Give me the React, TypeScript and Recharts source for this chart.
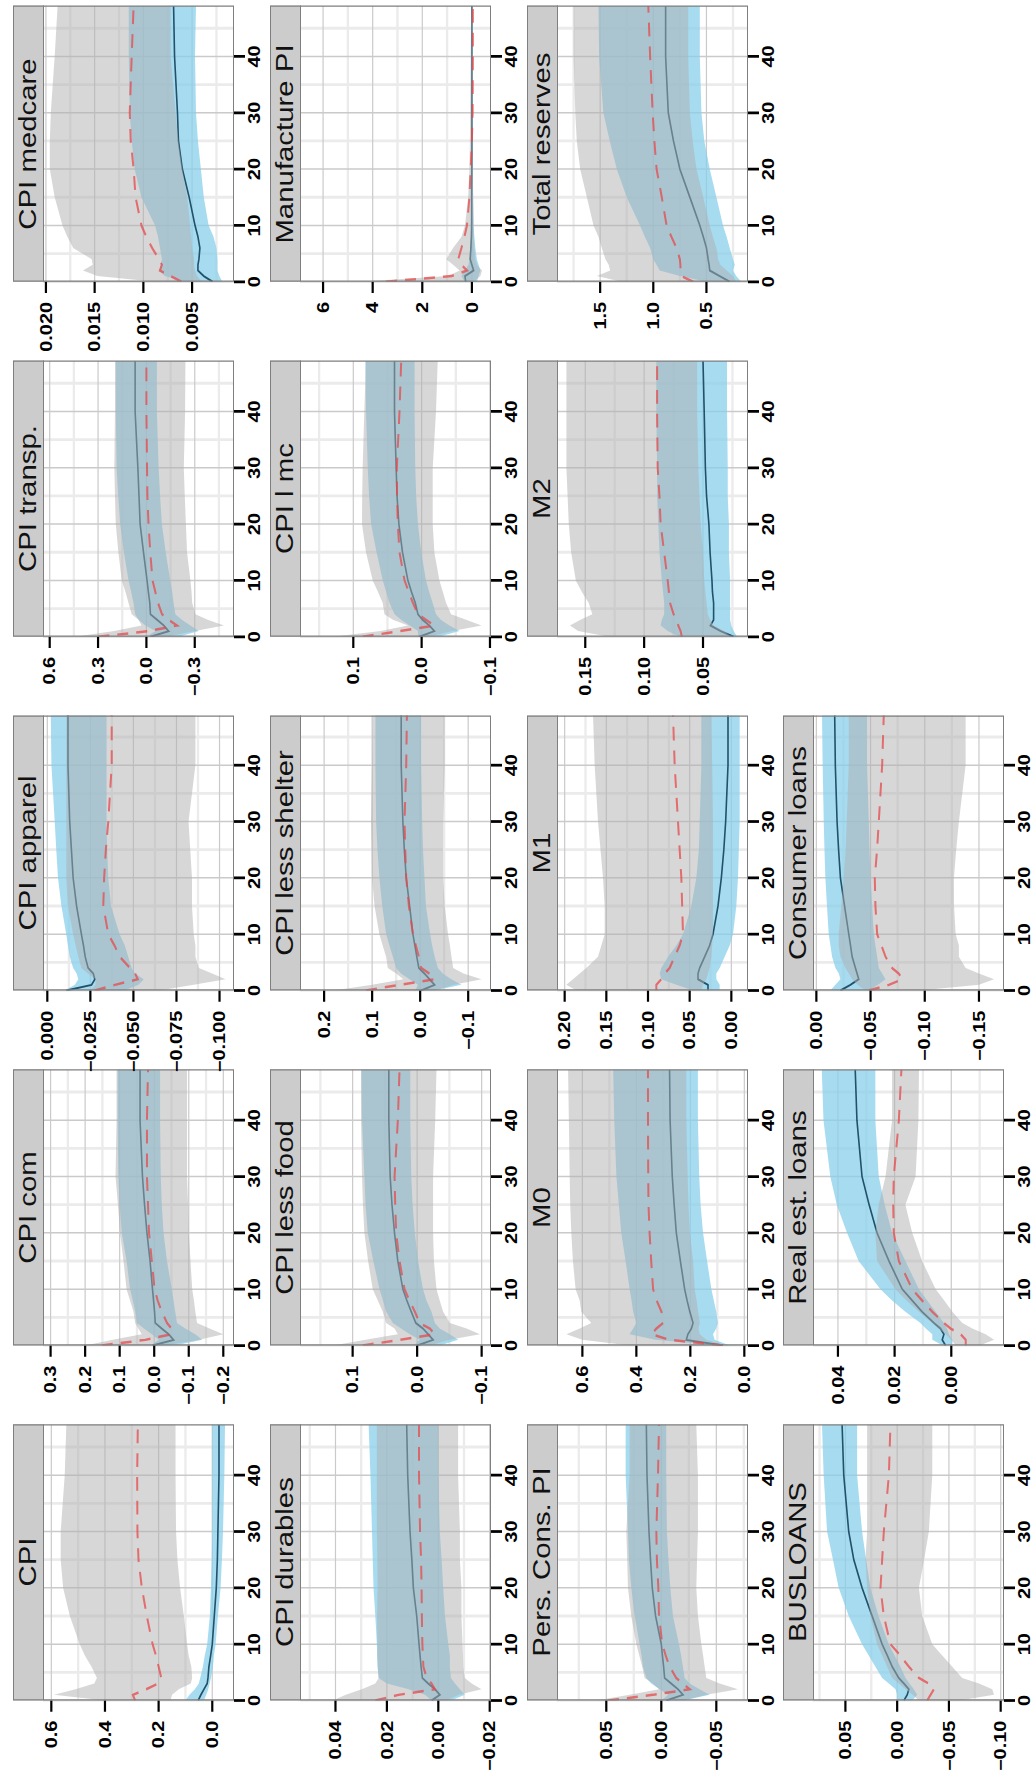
import React from 'react';
import { ComposedChart, Area, Line, XAxis, YAxis, CartesianGrid } from 'recharts';

const horizons = [0, 1, 2, 3, 4, 6, 8, 10, 15, 20, 25, 30, 40, 49];
const xTicks = [0, 10, 20, 30, 40];
const xMinor = [5, 15, 25, 35, 45];

// CPI
const cpiGreyLo = [0.156, 0.15, 0.125, 0.08, 0.075, 0.078, 0.088, 0.094, 0.106, 0.12, 0.13, 0.135, 0.137, 0.137];
const cpiGreyHi = [0.4, 0.59, 0.51, 0.44, 0.43, 0.45, 0.475, 0.494, 0.531, 0.556, 0.565, 0.565, 0.55, 0.544];
const cpiBlueLo = [0.031, 0.0225, 0.015, 0.01, 0.005, -0.0025, -0.006, -0.0125, -0.021, -0.031, -0.036, -0.04, -0.045, -0.0475];
const cpiBlueHi = [0.1, 0.085, 0.065, 0.05, 0.045, 0.035, 0.028, 0.019, 0.009, 0.005, 0.002, 0.0, 0.0, 0.0];
const cpiBlue = [0.0525, 0.0425, 0.031, 0.019, 0.016, 0.0125, 0.006, 0.0, -0.0075, -0.015, -0.019, -0.021, -0.025, -0.025];
const cpiRed = [0.2875, 0.296, 0.246, 0.2025, 0.19, 0.2, 0.21, 0.2225, 0.244, 0.2625, 0.275, 0.279, 0.28, 0.2775];

// CPI com
const comGreyLo = [-0.03, -0.13, -0.2, -0.16, -0.124, -0.119, -0.115, -0.11, -0.105, -0.1, -0.098, -0.095, -0.095, -0.095];
const comGreyHi = [0.2, 0.12, 0.036, 0.046, 0.055, 0.06, 0.07, 0.08, 0.089, 0.099, 0.105, 0.112, 0.109, 0.109];
const comBlueLo = [-0.06, -0.139, -0.119, -0.09, -0.066, -0.061, -0.056, -0.051, -0.037, -0.027, -0.022, -0.019, -0.017, -0.017];
const comBlueHi = [0.01, -0.013, 0.007, 0.03, 0.05, 0.055, 0.062, 0.07, 0.08, 0.094, 0.1, 0.104, 0.106, 0.106];
const comBlue = [0.005, -0.056, -0.042, -0.022, -0.003, -0.001, 0.002, 0.005, 0.012, 0.021, 0.028, 0.034, 0.041, 0.041];
const comRed = [0.152, 0.026, -0.05, -0.05, -0.037, -0.022, -0.01, -0.001, 0.007, 0.015, 0.018, 0.021, 0.021, 0.018];

// CPI apparel
const appGreyLo = [-0.065, -0.085, -0.1035, -0.0957, -0.088, -0.086, -0.086, -0.085, -0.084, -0.084, -0.083, -0.082, -0.086, -0.086];
const appGreyHi = [-0.025, -0.028, -0.028, -0.0237, -0.0198, -0.018, -0.0165, -0.015, -0.012, -0.011, -0.011, -0.011, -0.011, -0.011];
const appBlueLo = [-0.045, -0.053, -0.056, -0.051, -0.049, -0.047, -0.045, -0.042, -0.037, -0.0354, -0.0348, -0.0344, -0.0344, -0.0344];
const appBlueHi = [-0.0101, -0.016, -0.018, -0.017, -0.015, -0.013, -0.012, -0.011, -0.0082, -0.0062, -0.0052, -0.0043, -0.0024, -0.002];
const appBlue = [-0.011, -0.0257, -0.0276, -0.0267, -0.0237, -0.022, -0.021, -0.0198, -0.017, -0.015, -0.014, -0.013, -0.012, -0.012];
const appRed = [-0.0276, -0.0393, -0.0525, -0.051, -0.048, -0.042, -0.039, -0.0354, -0.0325, -0.033, -0.034, -0.0354, -0.0374, -0.0374];

// CPI transp.
const trnGreyLo = [-0.12, -0.3, -0.481, -0.38, -0.304, -0.284, -0.28, -0.273, -0.252, -0.245, -0.238, -0.232, -0.24, -0.242];
const trnGreyHi = [0.44, 0.2, 0.03, 0.049, 0.091, 0.111, 0.13, 0.153, 0.174, 0.19, 0.195, 0.199, 0.195, 0.195];
const trnBlueLo = [-0.2, -0.325, -0.273, -0.22, -0.18, -0.169, -0.16, -0.148, -0.12, -0.096, -0.085, -0.076, -0.065, -0.065];
const trnBlueHi = [0.0, -0.055, 0.006, 0.049, 0.07, 0.08, 0.095, 0.111, 0.14, 0.163, 0.175, 0.185, 0.19, 0.19];
const trnBlue = [-0.025, -0.138, -0.108, -0.067, -0.025, -0.021, -0.012, -0.004, 0.018, 0.039, 0.046, 0.053, 0.07, 0.07];
const trnRed = [0.298, -0.013, -0.19, -0.138, -0.097, -0.072, -0.055, -0.038, -0.024, -0.013, -0.006, -0.004, 0.0, 0.0];

// CPI medcare
const medGreyLo = [0.004, 0.0045, 0.0047, 0.0048, 0.0048, 0.005, 0.0051, 0.0052, 0.0055, 0.006, 0.0064, 0.0067, 0.0072, 0.0072];
const medGreyHi = [0.0088, 0.0147, 0.0162, 0.0152, 0.0153, 0.0172, 0.0178, 0.0183, 0.0191, 0.0196, 0.0196, 0.0195, 0.0191, 0.0188];
const medBlueLo = [0.0019, 0.0022, 0.0024, 0.0024, 0.0024, 0.0025, 0.0028, 0.0033, 0.0038, 0.0041, 0.0044, 0.0046, 0.0047, 0.0046];
const medBlueHi = [0.0057, 0.0078, 0.0084, 0.0082, 0.0081, 0.0083, 0.0085, 0.0088, 0.0102, 0.0109, 0.0112, 0.0114, 0.0115, 0.0115];
const medBlue = [0.0029, 0.0038, 0.0044, 0.0044, 0.0043, 0.0042, 0.0044, 0.0047, 0.0053, 0.006, 0.0064, 0.0065, 0.0068, 0.0069];
const medRed = [0.0061, 0.0072, 0.0083, 0.0081, 0.0084, 0.0091, 0.0097, 0.0102, 0.0108, 0.011, 0.0113, 0.0114, 0.0112, 0.011];

// CPI durables
const durGreyLo = [-0.003, -0.008, -0.0168, -0.013, -0.0103, -0.0097, -0.0096, -0.0094, -0.009, -0.009, -0.0084, -0.0084, -0.0077, -0.0077];
const durGreyHi = [0.041, 0.036, 0.0297, 0.0245, 0.0232, 0.0236, 0.0237, 0.0237, 0.0238, 0.0236, 0.0237, 0.0239, 0.0239, 0.0239];
const durBlueLo = [-0.005, -0.0103, -0.0084, -0.0065, -0.0049, -0.0045, -0.0045, -0.0039, -0.0026, -0.0019, -0.0013, -0.0006, 0.0, 0.0];
const durBlueHi = [0.0026, 0.0052, 0.0116, 0.02, 0.0232, 0.0236, 0.0238, 0.0239, 0.0245, 0.0252, 0.0255, 0.0258, 0.0264, 0.0271];
const durBlue = [0.0026, -0.0006, 0.0013, 0.0039, 0.0062, 0.0067, 0.0071, 0.0075, 0.0084, 0.0097, 0.0103, 0.011, 0.0119, 0.0123];
const durRed = [0.0245, 0.0155, 0.0013, 0.0026, 0.0045, 0.0058, 0.006, 0.0062, 0.0064, 0.0065, 0.0067, 0.0071, 0.0075, 0.0075];

// CPI less food
const lfdGreyLo = [-0.02, -0.05, -0.0974, -0.0766, -0.0507, -0.0403, -0.035, -0.03, -0.026, -0.0247, -0.0247, -0.0247, -0.028, -0.03];
const lfdGreyHi = [0.13, 0.08, 0.03, 0.035, 0.048, 0.0532, 0.061, 0.0688, 0.076, 0.0818, 0.084, 0.0855, 0.087, 0.087];
const lfdBlueLo = [-0.035, -0.0636, -0.0507, -0.035, -0.0275, -0.0223, -0.0145, -0.0091, -0.0015, 0.0036, 0.007, 0.0091, 0.0106, 0.0106];
const lfdBlueHi = [0.005, -0.004, 0.0114, 0.025, 0.0377, 0.048, 0.053, 0.0584, 0.068, 0.0766, 0.08, 0.0818, 0.0855, 0.0865];
const lfdBlue = [0.0, -0.0247, -0.0171, -0.0091, 0.0021, 0.0091, 0.016, 0.0221, 0.03, 0.0351, 0.039, 0.0418, 0.0439, 0.0439];
const lfdRed = [0.0844, 0.027, -0.0275, -0.0197, -0.0039, 0.0036, 0.012, 0.0195, 0.0273, 0.0325, 0.034, 0.035, 0.0299, 0.0273];

// CPI less shelter
const lshGreyLo = [-0.03, -0.07, -0.1277, -0.09, -0.0687, -0.0652, -0.062, -0.058, -0.0512, -0.0477, -0.0477, -0.0477, -0.0512, -0.0512];
const lshGreyHi = [0.18, 0.1, 0.035, 0.05, 0.0674, 0.0709, 0.078, 0.0849, 0.095, 0.1002, 0.101, 0.1023, 0.1002, 0.0988];
const lshBlueLo = [-0.03, -0.0858, -0.0649, -0.047, -0.037, -0.0303, -0.025, -0.0209, -0.012, -0.009, -0.006, -0.0042, -0.0021, -0.0021];
const lshBlueHi = [0.01, 0.005, 0.0223, 0.04, 0.05, 0.0569, 0.064, 0.0709, 0.079, 0.0849, 0.089, 0.0918, 0.0932, 0.0932];
const lshBlue = [-0.002, -0.03, -0.0195, -0.009, 0.0028, 0.007, 0.011, 0.0151, 0.022, 0.029, 0.033, 0.036, 0.0395, 0.0395];
const lshRed = [0.1128, 0.043, -0.03, -0.0195, -0.002, 0.0028, 0.009, 0.0151, 0.0235, 0.029, 0.031, 0.0325, 0.029, 0.0276];

// CPI l mc
const lmcGreyLo = [-0.01, -0.045, -0.0877, -0.065, -0.0431, -0.0358, -0.031, -0.026, -0.0186, -0.0162, -0.0162, -0.0162, -0.021, -0.0235];
const lmcGreyHi = [0.13, 0.06, 0.02, 0.042, 0.0544, 0.0569, 0.064, 0.0716, 0.0814, 0.0873, 0.087, 0.0863, 0.0839, 0.0814];
const lmcBlueLo = [-0.025, -0.0554, -0.0407, -0.028, -0.0211, -0.0162, -0.011, -0.0064, 0.0005, 0.0054, 0.008, 0.0093, 0.0103, 0.0103];
const lmcBlueHi = [0.005, 0.0054, 0.0176, 0.03, 0.0397, 0.047, 0.052, 0.0569, 0.066, 0.074, 0.077, 0.0789, 0.0814, 0.0824];
const lmcBlue = [0.0034, -0.0186, -0.0113, -0.0015, 0.0054, 0.0093, 0.015, 0.0201, 0.028, 0.0333, 0.036, 0.0373, 0.0397, 0.0397];
const lmcRed = [0.0863, 0.0324, -0.0186, -0.0064, 0.0054, 0.0127, 0.019, 0.025, 0.0324, 0.0349, 0.036, 0.0363, 0.0324, 0.0299];

// Manufacture PI
const mfgGreyLo = [-0.07, -0.34, -0.41, -0.2, -0.14, -0.1, -0.08, -0.07, -0.05, -0.04, -0.03, -0.03, -0.03, -0.03];
const mfgGreyHi = [4.5, 0.96, 0.49, 0.76, 1.03, 0.76, 0.42, 0.28, 0.15, 0.1, 0.08, 0.07, 0.05, 0.03];
const mfgBlueLo = [-0.2, -0.27, -0.34, -0.27, -0.2, -0.14, -0.1, -0.07, -0.05, -0.04, -0.04, -0.04, -0.04, -0.04];
const mfgBlueHi = [0.3, 0.42, 0.28, 0.14, 0.1, 0.07, 0.05, 0.04, 0.03, 0.03, 0.03, 0.03, 0.03, 0.03];
const mfgBlue = [0.25, 0.28, -0.07, 0.0, 0.07, 0.04, 0.02, 0.01, 0.01, 0.005, 0.005, 0.005, 0.005, 0.005];
const mfgRed = [3.46, 0.82, 0.2, 0.42, 0.55, 0.42, 0.3, 0.2, 0.1, 0.05, 0.0, -0.03, -0.04, -0.04];

// Pers. Cons. PI
const pceGreyLo = [-0.02, -0.0409, -0.0697, -0.053, -0.0409, -0.0394, -0.038, -0.0364, -0.0333, -0.0318, -0.0325, -0.0333, -0.0333, -0.0318];
const pceGreyHi = [0.059, 0.0288, 0.002, 0.0076, 0.0152, 0.0173, 0.02, 0.0227, 0.0273, 0.0303, 0.031, 0.0318, 0.0288, 0.0288];
const pceBlueLo = [-0.02, -0.0439, -0.0348, -0.0258, -0.0212, -0.0197, -0.018, -0.0161, -0.0106, -0.0082, -0.0065, -0.0051, -0.0045, -0.0045];
const pceBlueHi = [0.0, -0.0061, 0.0015, 0.0091, 0.0136, 0.0167, 0.018, 0.0197, 0.0242, 0.0273, 0.0295, 0.0303, 0.0324, 0.0324];
const pceBlue = [-0.0045, -0.0197, -0.0152, -0.0091, -0.003, -0.0021, -0.001, 0.0, 0.0052, 0.0082, 0.0098, 0.0112, 0.013, 0.0136];
const pceRed = [0.0485, 0.0076, -0.0258, -0.0197, -0.0136, -0.0076, -0.004, -0.0009, 0.0021, 0.0027, 0.004, 0.0045, 0.003, 0.0021];

// M0
const m0GreyLo = [0.067, 0.141, 0.165, 0.17, 0.165, 0.171, 0.177, 0.184, 0.19, 0.202, 0.207, 0.21, 0.215, 0.215];
const m0GreyHi = [0.425, 0.6, 0.659, 0.61, 0.567, 0.604, 0.61, 0.625, 0.635, 0.641, 0.645, 0.647, 0.65, 0.653];
const m0BlueLo = [0.054, 0.11, 0.116, 0.104, 0.098, 0.104, 0.113, 0.122, 0.138, 0.153, 0.162, 0.167, 0.172, 0.172];
const m0BlueHi = [0.091, 0.33, 0.425, 0.412, 0.4, 0.412, 0.418, 0.425, 0.44, 0.456, 0.465, 0.474, 0.482, 0.486];
const m0Blue = [0.079, 0.215, 0.209, 0.196, 0.19, 0.202, 0.212, 0.221, 0.237, 0.252, 0.26, 0.267, 0.275, 0.277];
const m0Red = [0.079, 0.277, 0.344, 0.326, 0.301, 0.307, 0.325, 0.338, 0.345, 0.351, 0.355, 0.356, 0.357, 0.357];

// M1
const m1GreyLo = [0.036, 0.034, 0.03, 0.028, 0.026, 0.024, 0.023, 0.022, 0.022, 0.022, 0.022, 0.022, 0.023, 0.024];
const m1GreyHi = [0.186, 0.198, 0.19, 0.182, 0.174, 0.16, 0.156, 0.152, 0.152, 0.154, 0.157, 0.16, 0.164, 0.166];
const m1BlueLo = [0.014, 0.014, 0.018, 0.018, 0.014, 0.008, 0.002, -0.002, -0.006, -0.008, -0.009, -0.01, -0.01, -0.01];
const m1BlueHi = [0.046, 0.066, 0.084, 0.086, 0.084, 0.076, 0.066, 0.058, 0.048, 0.042, 0.039, 0.038, 0.036, 0.036];
const m1Blue = [0.028, 0.028, 0.04, 0.04, 0.038, 0.032, 0.026, 0.022, 0.016, 0.012, 0.009, 0.0068, 0.004, 0.004];
const m1Red = [0.09, 0.09, 0.084, 0.08, 0.074, 0.068, 0.062, 0.058, 0.059, 0.06, 0.062, 0.064, 0.068, 0.07];

// M2
const m2GreyLo = [0.026, 0.032, 0.041, 0.044, 0.046, 0.047, 0.048, 0.049, 0.05, 0.052, 0.053, 0.054, 0.055, 0.055];
const m2GreyHi = [0.13, 0.156, 0.163, 0.154, 0.144, 0.147, 0.153, 0.158, 0.162, 0.164, 0.165, 0.166, 0.166, 0.166];
const m2BlueLo = [0.021, 0.024, 0.026, 0.027, 0.027, 0.027, 0.027, 0.027, 0.028, 0.028, 0.029, 0.029, 0.0296, 0.0296];
const m2BlueHi = [0.07, 0.08, 0.086, 0.085, 0.083, 0.083, 0.084, 0.085, 0.087, 0.088, 0.089, 0.089, 0.0897, 0.0897];
const m2Blue = [0.024, 0.035, 0.0437, 0.041, 0.041, 0.041, 0.042, 0.0424, 0.044, 0.045, 0.047, 0.048, 0.049, 0.05];
const m2Red = [0.068, 0.069, 0.071, 0.072, 0.075, 0.078, 0.079, 0.08, 0.083, 0.086, 0.087, 0.0885, 0.089, 0.089];

// Total reserves
const resGreyLo = [0.22, 0.25, 0.31, 0.37, 0.39, 0.406, 0.44, 0.469, 0.53, 0.594, 0.63, 0.656, 0.672, 0.672];
const resGreyHi = [1.3, 1.53, 1.406, 1.42, 1.45, 1.484, 1.516, 1.5625, 1.625, 1.688, 1.72, 1.734, 1.75, 1.75];
const resBlueLo = [0.172, 0.22, 0.25, 0.234, 0.25, 0.281, 0.31, 0.344, 0.406, 0.469, 0.52, 0.547, 0.5625, 0.5625];
const resBlueHi = [0.5, 0.75, 0.94, 0.97, 1.0, 1.03, 1.08, 1.125, 1.25, 1.344, 1.41, 1.47, 1.51, 1.516];
const resBlue = [0.281, 0.375, 0.469, 0.475, 0.484, 0.5, 0.53, 0.5625, 0.656, 0.75, 0.81, 0.859, 0.884, 0.884];
const resRed = [0.625, 0.735, 0.744, 0.745, 0.75, 0.781, 0.83, 0.875, 0.92, 0.969, 0.99, 1.006, 1.03, 1.047];

// BUSLOANS
const busGreyLo = [-0.06, -0.0935, -0.0919, -0.079, -0.0629, -0.0532, -0.0435, -0.0339, -0.0242, -0.021, -0.026, -0.0306, -0.0339, -0.0339];
const busGreyHi = [-0.021, -0.015, -0.0081, -0.0017, 0.0048, 0.0097, 0.0145, 0.0194, 0.0258, 0.029, 0.0306, 0.029, 0.029, 0.029];
const busBlueLo = [-0.0145, -0.0194, -0.0161, -0.012, -0.0081, -0.0032, 0.0025, 0.0081, 0.018, 0.0258, 0.03, 0.0339, 0.0387, 0.0387];
const busBlueHi = [0.0, 0.0, 0.0016, 0.008, 0.0145, 0.021, 0.0275, 0.0339, 0.0468, 0.0565, 0.062, 0.0677, 0.071, 0.0726];
const busBlue = [-0.0065, -0.0097, -0.0113, -0.0065, -0.0016, 0.0048, 0.0095, 0.0145, 0.0242, 0.0339, 0.0419, 0.0468, 0.0516, 0.0532];
const busRed = [-0.029, -0.0323, -0.0355, -0.0306, -0.021, -0.0113, -0.003, 0.0065, 0.0129, 0.0161, 0.0145, 0.0129, 0.008, 0.0065];

// Real est. loans
const relGreyLo = [-0.01, -0.0151, -0.0121, -0.0074, -0.0039, -0.0004, 0.0025, 0.0055, 0.0103, 0.0138, 0.0162, 0.0126, 0.0116, 0.0114];
const relGreyHi = [-0.0015, 0.0, 0.002, 0.0044, 0.0067, 0.0114, 0.0158, 0.0197, 0.0262, 0.0268, 0.0256, 0.0232, 0.0209, 0.0209];
const relBlueLo = [-0.0004, -0.0004, 0.0008, 0.0015, 0.0026, 0.0055, 0.0085, 0.0114, 0.0162, 0.0209, 0.0235, 0.0256, 0.0268, 0.0268];
const relBlueHi = [0.003, 0.0067, 0.0067, 0.009, 0.0109, 0.0162, 0.0209, 0.025, 0.0327, 0.0368, 0.0404, 0.0427, 0.0451, 0.0457];
const relBlue = [0.002, 0.0032, 0.0026, 0.0038, 0.0061, 0.0103, 0.0138, 0.0173, 0.022, 0.0262, 0.029, 0.0315, 0.0333, 0.0339];
const relRed = [-0.0051, -0.0051, -0.0033, 0.0002, 0.0026, 0.0067, 0.0103, 0.0138, 0.0185, 0.0203, 0.0205, 0.0203, 0.0185, 0.0176];

// Consumer loans
const cslGreyLo = [-0.095, -0.15, -0.1639, -0.15, -0.1377, -0.1315, -0.1315, -0.1285, -0.127, -0.1269, -0.129, -0.1315, -0.1377, -0.1377];
const cslGreyHi = [-0.0453, -0.038, -0.033, -0.03, -0.0268, -0.0222, -0.0206, -0.0206, -0.023, -0.0253, -0.027, -0.028, -0.0299, -0.0299];
const cslBlueLo = [-0.0484, -0.057, -0.0638, -0.0607, -0.0576, -0.0561, -0.0545, -0.053, -0.0515, -0.05, -0.049, -0.0484, -0.0468, -0.0468];
const cslBlueHi = [-0.0129, -0.0176, -0.0222, -0.0207, -0.0176, -0.0145, -0.013, -0.0114, -0.0098, -0.0083, -0.0075, -0.0068, -0.0058, -0.0052];
const cslBlue = [-0.0222, -0.0314, -0.0391, -0.0376, -0.036, -0.033, -0.0315, -0.0299, -0.026, -0.0222, -0.0205, -0.0191, -0.0175, -0.0169];
const cslRed = [-0.0484, -0.0669, -0.0792, -0.0761, -0.0699, -0.0638, -0.06, -0.0561, -0.0545, -0.0539, -0.056, -0.0576, -0.0607, -0.0622];

// figure is laid out landscape, then stretched and turned to portrait
const S = 1.25;
const COL_X = [78, 432.5, 787, 1141.5, 1496].map((x) => x / S);
const ROW_Y = [13, 270, 527, 783];
const PW = 276 / S;
const PH = 191;
const STRIP_H = 30;
const YW = 80;
const XH = 36;
const TOP_PAD = 14;
const FONT = '"Liberation Sans", Arial, Helvetica, sans-serif';
const M = '\u2212';

const panels = [
  { title: 'CPI', r: 0, c: 0, dom: [-0.081, 0.631], ticks: [0, 0.2, 0.4, 0.6], labels: ['0.0', '0.2', '0.4', '0.6'], minor: [0.1, 0.3, 0.5], s: [cpiGreyLo, cpiGreyHi, cpiBlueLo, cpiBlueHi, cpiBlue, cpiRed] },
  { title: 'CPI com', r: 0, c: 1, dom: [-0.231, 0.322], ticks: [-0.2, -0.1, 0, 0.1, 0.2, 0.3], labels: [M + '0.2', M + '0.1', '0.0', '0.1', '0.2', '0.3'], minor: [-0.15, -0.05, 0.05, 0.15, 0.25], s: [comGreyLo, comGreyHi, comBlueLo, comBlueHi, comBlue, comRed] },
  { title: 'CPI apparel', r: 0, c: 2, dom: [-0.1084, 0.0025], ticks: [-0.1, -0.075, -0.05, -0.025, 0], labels: [M + '0.100', M + '0.075', M + '0.050', M + '0.025', '0.000'], minor: [-0.0875, -0.0625, -0.0375, -0.0125], s: [appGreyLo, appGreyHi, appBlueLo, appBlueHi, appBlue, appRed] },
  { title: 'CPI transp.', r: 0, c: 3, dom: [-0.5435, 0.6416], ticks: [-0.3, 0, 0.3, 0.6], labels: [M + '0.3', '0.0', '0.3', '0.6'], minor: [-0.45, -0.15, 0.15, 0.45], s: [trnGreyLo, trnGreyHi, trnBlueLo, trnBlueHi, trnBlue, trnRed] },
  { title: 'CPI medcare', r: 0, c: 4, dom: [0.0007, 0.0203], ticks: [0.005, 0.01, 0.015, 0.02], labels: ['0.005', '0.010', '0.015', '0.020'], minor: [0.0025, 0.0075, 0.0125, 0.0175], s: [medGreyLo, medGreyHi, medBlueLo, medBlueHi, medBlue, medRed] },
  { title: 'CPI durables', r: 1, c: 0, dom: [-0.0205, 0.0538], ticks: [-0.02, 0, 0.02, 0.04], labels: [M + '0.02', '0.00', '0.02', '0.04'], minor: [-0.01, 0.01, 0.03, 0.05], s: [durGreyLo, durGreyHi, durBlueLo, durBlueHi, durBlue, durRed] },
  { title: 'CPI less food', r: 1, c: 1, dom: [-0.1145, 0.1816], ticks: [-0.1, 0, 0.1], labels: [M + '0.1', '0.0', '0.1'], minor: [-0.05, 0.05, 0.15], s: [lfdGreyLo, lfdGreyHi, lfdBlueLo, lfdBlueHi, lfdBlue, lfdRed] },
  { title: 'CPI less shelter', r: 1, c: 2, dom: [-0.1475, 0.2502], ticks: [-0.1, 0, 0.1, 0.2], labels: [M + '0.1', '0.0', '0.1', '0.2'], minor: [-0.05, 0.05, 0.15], s: [lshGreyLo, lshGreyHi, lshBlueLo, lshBlueHi, lshBlue, lshRed] },
  { title: 'CPI l mc', r: 1, c: 3, dom: [-0.1015, 0.178], ticks: [-0.1, 0, 0.1], labels: [M + '0.1', '0.0', '0.1'], minor: [-0.05, 0.05, 0.15], s: [lmcGreyLo, lmcGreyHi, lmcBlueLo, lmcBlueHi, lmcBlue, lmcRed] },
  { title: 'Manufacture PI', r: 1, c: 4, dom: [-0.77, 6.93], ticks: [0, 2, 4, 6], labels: ['0', '2', '4', '6'], minor: [1, 3, 5], s: [mfgGreyLo, mfgGreyHi, mfgBlueLo, mfgBlueHi, mfgBlue, mfgRed] },
  { title: 'Pers. Cons. PI', r: 2, c: 0, dom: [-0.0788, 0.0948], ticks: [-0.05, 0, 0.05], labels: [M + '0.05', '0.00', '0.05'], minor: [-0.075, -0.025, 0.025, 0.075], s: [pceGreyLo, pceGreyHi, pceBlueLo, pceBlueHi, pceBlue, pceRed] },
  { title: 'M0', r: 2, c: 1, dom: [-0.0136, 0.694], ticks: [0, 0.2, 0.4, 0.6], labels: ['0.0', '0.2', '0.4', '0.6'], minor: [0.1, 0.3, 0.5], s: [m0GreyLo, m0GreyHi, m0BlueLo, m0BlueHi, m0Blue, m0Red] },
  { title: 'M1', r: 2, c: 2, dom: [-0.02, 0.2092], ticks: [0, 0.05, 0.1, 0.15, 0.2], labels: ['0.00', '0.05', '0.10', '0.15', '0.20'], minor: [0.025, 0.075, 0.125, 0.175], s: [m1GreyLo, m1GreyHi, m1BlueLo, m1BlueHi, m1Blue, m1Red] },
  { title: 'M2', r: 2, c: 3, dom: [0.0118, 0.174], ticks: [0.05, 0.1, 0.15], labels: ['0.05', '0.10', '0.15'], minor: [0.025, 0.075, 0.125], s: [m2GreyLo, m2GreyHi, m2BlueLo, m2BlueHi, m2Blue, m2Red] },
  { title: 'Total reserves', r: 2, c: 4, dom: [0.109, 1.906], ticks: [0.5, 1, 1.5], labels: ['0.5', '1.0', '1.5'], minor: [0.25, 0.75, 1.25, 1.75], s: [resGreyLo, resGreyHi, resBlueLo, resBlueHi, resBlue, resRed] },
  { title: 'BUSLOANS', r: 3, c: 0, dom: [-0.1032, 0.0813], ticks: [-0.1, -0.05, 0, 0.05], labels: [M + '0.10', M + '0.05', '0.00', '0.05'], minor: [-0.075, -0.025, 0.025, 0.075], s: [busGreyLo, busGreyHi, busBlueLo, busBlueHi, busBlue, busRed] },
  { title: 'Real est. loans', r: 3, c: 1, dom: [-0.0186, 0.0488], ticks: [0, 0.02, 0.04], labels: ['0.00', '0.02', '0.04'], minor: [-0.01, 0.01, 0.03], s: [relGreyLo, relGreyHi, relBlueLo, relBlueHi, relBlue, relRed] },
  { title: 'Consumer loans', r: 3, c: 2, dom: [-0.1731, 0.0031], ticks: [-0.15, -0.1, -0.05, 0], labels: [M + '0.15', M + '0.10', M + '0.05', '0.00'], minor: [-0.125, -0.075, -0.025], s: [cslGreyLo, cslGreyHi, cslBlueLo, cslBlueHi, cslBlue, cslRed] },
];

const tickStyle = { fill: '#000', fontSize: 16, fontWeight: 700, fontFamily: FONT };
const tickLine = { stroke: '#000', strokeWidth: 2.2 };

function Panel({ p }: any) {
  const [gLo, gHi, bLo, bHi, b, red] = p.s;
  const rows = horizons.map((h, i) => ({
    h,
    grey: [gLo[i], gHi[i]],
    blue: [bLo[i], bHi[i]],
    mid: b[i],
    red: red[i],
  }));
  const left = COL_X[p.c];
  const top = ROW_Y[p.r];
  return (
    <>
      <div
        style={{
          position: 'absolute', left, top, width: PW, height: STRIP_H + 1,
          background: '#cccccc', border: '1.6px solid #7f7f7f', boxSizing: 'border-box',
          display: 'flex', alignItems: 'center', justifyContent: 'center',
          fontFamily: FONT, fontSize: 23.5, color: '#111', lineHeight: 1, whiteSpace: 'nowrap',
        }}
      >
        {p.title}
      </div>
      <div style={{ position: 'absolute', left: left - YW, top: top + STRIP_H - TOP_PAD }}>
        <ComposedChart width={YW + PW} height={TOP_PAD + PH + XH} data={rows} margin={{ top: TOP_PAD, right: 0, bottom: 0, left: 0 }}>
          <CartesianGrid verticalValues={xMinor} horizontalValues={p.minor} stroke="#ebebeb" strokeWidth={2.3} />
          <CartesianGrid verticalValues={xTicks} horizontalValues={p.ticks} stroke="#cacaca" strokeWidth={1.2} />
          <XAxis
            dataKey="h" type="number" domain={[0, 49]} ticks={xTicks} interval={0} allowDataOverflow
            height={XH} axisLine={false} tickLine={tickLine} tickSize={11} tickMargin={4} tick={tickStyle}
          />
          <YAxis
            type="number" domain={p.dom} ticks={p.ticks} interval={0} allowDataOverflow
            width={YW} axisLine={false} tickLine={tickLine} tickSize={9} tickMargin={7} tick={tickStyle}
            tickFormatter={(v: number) => p.labels[p.ticks.indexOf(v)] ?? String(v)}
          />
          <Area dataKey="blue" type="linear" stroke="none" fill="#87ceeb" fillOpacity={0.74} isAnimationActive={false} zIndex={101} />
          <Line dataKey="mid" type="linear" stroke="#22516a" strokeWidth={1.6} dot={false} activeDot={false} isAnimationActive={false} zIndex={102} />
          <Area dataKey="grey" type="linear" stroke="none" fill="#b0b0b0" fillOpacity={0.5} isAnimationActive={false} zIndex={103} />
          <Line dataKey="red" type="linear" stroke="#e5484b" strokeOpacity={0.75} strokeWidth={2} strokeDasharray="11 8" dot={false} activeDot={false} isAnimationActive={false} zIndex={104} />
        </ComposedChart>
      </div>
      <div
        style={{
          position: 'absolute', left, top: top + STRIP_H, width: PW, height: PH,
          border: '1.6px solid #7f7f7f', boxSizing: 'border-box', pointerEvents: 'none',
        }}
      />
    </>
  );
}

export default function App() {
  return (
    <div style={{ position: 'absolute', left: 0, top: 0, width: 1033, height: 1778, overflow: 'hidden', background: '#fff' }}>
      <div
        style={{
          position: 'absolute', left: 0, top: 0, width: 1778 / S, height: 1033,
          transformOrigin: '0 0', transform: `translate(0px, 1778px) rotate(-90deg) scale(${S}, 1)`,
        }}
      >
        {panels.map((p) => (
          <Panel key={p.title} p={p} />
        ))}
      </div>
    </div>
  );
}
